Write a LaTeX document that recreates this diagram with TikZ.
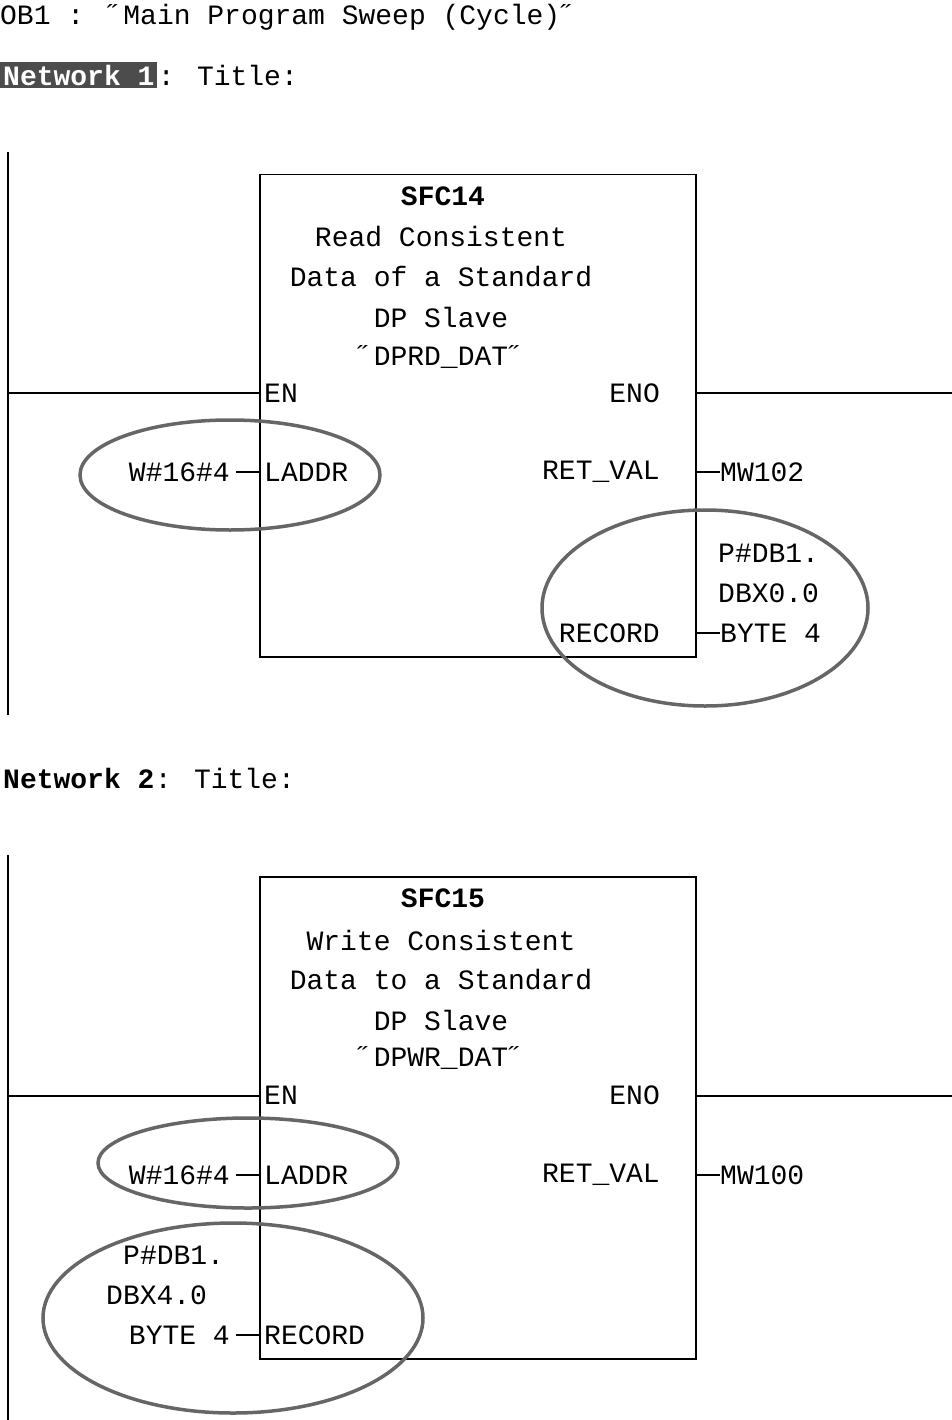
\documentclass[tikz,border=0pt]{standalone}
\usepackage{fontspec}
\setmainfont{Liberation Mono}
\begin{document}
\begin{tikzpicture}[x=1pt,y=-1pt,
  txt/.style={inner sep=0pt,font=\fontsize{28}{30}\selectfont},
  bld/.style={txt,font=\fontsize{28}{30}\selectfont\bfseries},
  wire/.style={line width=1.5pt},
  blk/.style={draw,line width=1.5pt},
  ring/.style={draw=black!60,line width=3.5pt}]
\useasboundingbox (0,0) rectangle (952,1420);
\node[txt,anchor=west] (hdr) at (0,17) {OB1 :  ˝Main Program Sweep (Cycle)˝};
\node[bld,anchor=west,fill=black!70,text=white,inner sep=3pt] (n1) at (0,75) {Network 1};
\node[txt,anchor=west] (t1) at (n1.east) {: Title:};
\node[bld,anchor=west] (n2) at (3,778) {Network 2};
\node[txt,anchor=west] (t2) at (n2.east) {: Title:};
% network 1
\coordinate (r1a) at (8,152); \coordinate (r1b) at (8,715);
\draw[wire] (r1a) -- (r1b);
\node[blk,minimum width=436pt,minimum height=482pt,anchor=north west] (b1) at (259,174) {};
\node[bld] (s1) at (443,196) {SFC14};
\node[txt] (l11) at (441,237) {Read Consistent};
\node[txt] (l12) at (441,277) {Data of a Standard};
\node[txt] (l13) at (441,317) {DP Slave};
\node[txt] (l14) at (441,357) {˝DPRD\_DAT˝};
\node[txt,anchor=west] (en1) at (264,393) {EN};
\node[txt,anchor=east] (eno1) at (660,393) {ENO};
\coordinate (e1l) at (8,393); \coordinate (e1r) at (952,393);
\draw[wire] (e1l) -- (b1.west |- e1l); \draw[wire] (b1.east |- e1r) -- (e1r);
\node[txt,anchor=west] (la1) at (264,472) {LADDR};
\node[txt,anchor=east] (w1) at (230,472) {W\#16\#4};
\draw[wire] (w1.east)++(6,0) -- (b1.west |- w1);
\node[txt,anchor=east] (rv1) at (660,472) {RET\_VAL};
\node[txt,anchor=west] (mw1) at (720,472) {MW102};
\draw[wire] (b1.east |- mw1) -- (mw1.west);
\node[txt,anchor=east] (rc1) at (660,633) {RECORD};
\node[txt,anchor=west] (p11) at (718,553) {P\#DB1.};
\node[txt,anchor=west] (p12) at (718,593) {DBX0.0};
\node[txt,anchor=west] (p13) at (720,633) {BYTE 4};
\draw[wire] (b1.east |- p13) -- (p13.west);
\draw[ring] (230,475) ellipse [x radius=150,y radius=55];
\draw[ring] (705,608) ellipse [x radius=163,y radius=98];
% network 2
\coordinate (r2a) at (8,855); \coordinate (r2b) at (8,1420);
\draw[wire] (r2a) -- (r2b);
\node[blk,minimum width=436pt,minimum height=482pt,anchor=north west] (b2) at (259,876) {};
\node[bld] (s2) at (443,898) {SFC15};
\node[txt] (l21) at (441,940) {Write Consistent};
\node[txt] (l22) at (441,980) {Data to a Standard};
\node[txt] (l23) at (441,1020) {DP Slave};
\node[txt] (l24) at (441,1058) {˝DPWR\_DAT˝};
\node[txt,anchor=west] (en2) at (264,1095) {EN};
\node[txt,anchor=east] (eno2) at (660,1095) {ENO};
\coordinate (e2l) at (8,1096); \coordinate (e2r) at (952,1096);
\draw[wire] (e2l) -- (b2.west |- e2l); \draw[wire] (b2.east |- e2r) -- (e2r);
\node[txt,anchor=west] (la2) at (264,1175) {LADDR};
\node[txt,anchor=east] (w2) at (230,1175) {W\#16\#4};
\draw[wire] (w2.east)++(6,0) -- (b2.west |- w2);
\node[txt,anchor=east] (rv2) at (660,1175) {RET\_VAL};
\node[txt,anchor=west] (mw2) at (720,1175) {MW100};
\draw[wire] (b2.east |- mw2) -- (mw2.west);
\node[txt,anchor=west] (rc2) at (264,1335) {RECORD};
\node[txt,anchor=west] (p21) at (123,1255) {P\#DB1.};
\node[txt,anchor=west] (p22) at (106,1295) {DBX4.0};
\node[txt,anchor=east] (p23) at (230,1335) {BYTE 4};
\draw[wire] (p23.east)++(6,0) -- (b2.west |- p23);
\draw[ring] (248,1163) ellipse [x radius=150,y radius=45];
\draw[ring] (233,1318) ellipse [x radius=190,y radius=95];
\end{tikzpicture}
\end{document}
